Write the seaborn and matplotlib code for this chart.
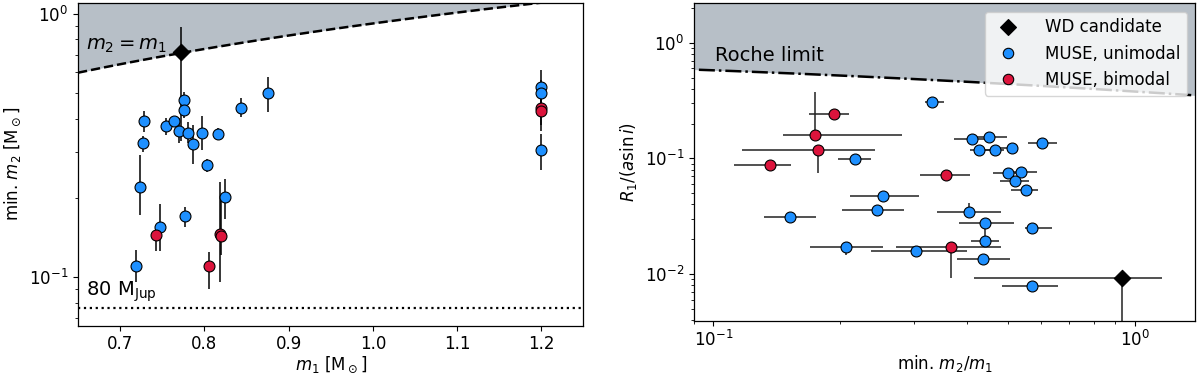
import numpy as np
import pandas as pd
import matplotlib
matplotlib.use("Agg")
import matplotlib.pyplot as plt
from matplotlib.lines import Line2D
import seaborn as sns

# ---- left panel: m1 vs min. m2 ----
m1_uni = [0.776, 0.776, 0.728, 0.727, 0.754, 0.764, 0.770, 0.780, 0.786, 0.797, 0.816,
          0.803, 0.8435, 0.875, 0.724, 0.825, 0.7766, 0.747, 0.719, 1.2, 1.2, 1.2]
m2_uni = [0.471, 0.431, 0.392, 0.322, 0.376, 0.392, 0.359, 0.352, 0.320, 0.352, 0.350,
          0.266, 0.440, 0.499, 0.2195, 0.202, 0.170, 0.1546, 0.110, 0.529, 0.499, 0.305]
m2_uni_lo = [0.44, 0.401, 0.356, 0.299, 0.346, 0.38, 0.322, 0.322, 0.269, 0.303, 0.331,
             0.251, 0.407, 0.425, 0.172, 0.167, 0.155, 0.126, 0.0958, 0.46, 0.44, 0.255]
m2_uni_hi = [0.506, 0.46, 0.428, 0.343, 0.404, 0.40, 0.401, 0.389, 0.378, 0.411, 0.37,
             0.282, 0.478, 0.577, 0.29, 0.235, 0.185, 0.189, 0.1264, 0.61, 0.56, 0.35]

m1_bi = [0.743, 0.818, 0.820, 0.805, 1.2, 1.2]
m2_bi = [0.144, 0.1463, 0.143, 0.110, 0.439, 0.426]
m2_bi_lo = [0.126, 0.0958, 0.121, 0.0904, 0.38, 0.36]
m2_bi_hi = [0.153, 0.23, 0.196, 0.1245, 0.5, 0.47]

m1_wd = [0.772]
m2_wd = [0.72]
m2_wd_lo = [0.33]
m2_wd_hi = [0.89]

# ---- right panel: min. q vs R1/(a sin i) ----
q_uni = [0.331, 0.217, 0.412, 0.450, 0.428, 0.465, 0.511, 0.6035, 0.500, 0.537, 0.5206,
         0.5535, 0.253, 0.2443, 0.1523, 0.405, 0.441, 0.441, 0.570, 0.2063, 0.302, 0.436, 0.570]
q_uni_lo = [0.318, 0.198, 0.372, 0.42, 0.407, 0.44, 0.47, 0.557, 0.46, 0.50, 0.48,
            0.51, 0.211, 0.2017, 0.132, 0.340, 0.382, 0.409, 0.55, 0.1698, 0.2368, 0.378, 0.485]
q_uni_hi = [0.352, 0.237, 0.46, 0.497, 0.455, 0.49, 0.53, 0.656, 0.5376, 0.588, 0.56,
            0.59, 0.307, 0.284, 0.1754, 0.482, 0.5176, 0.4775, 0.636, 0.2533, 0.40, 0.506, 0.659]
r_uni = [0.309, 0.0982, 0.147, 0.152, 0.119, 0.119, 0.1225, 0.135, 0.0753, 0.077, 0.0633,
         0.0536, 0.0473, 0.0358, 0.031, 0.0346, 0.0275, 0.0195, 0.0252, 0.0173, 0.0159, 0.0135, 0.00794]
r_uni_lo = [0.309, 0.0982, 0.147, 0.152, 0.119, 0.119, 0.1225, 0.135, 0.0753, 0.077, 0.0633,
            0.0536, 0.0473, 0.0358, 0.031, 0.0346, 0.0195, 0.0195, 0.0252, 0.0147, 0.0159, 0.0135, 0.00794]
r_uni_hi = [0.309, 0.0982, 0.147, 0.152, 0.119, 0.119, 0.1225, 0.135, 0.0753, 0.077, 0.0633,
            0.0536, 0.0473, 0.0358, 0.031, 0.0414, 0.0275, 0.0195, 0.0252, 0.0173, 0.0159, 0.0135, 0.00794]

q_bi = [0.1935, 0.174, 0.1776, 0.1365, 0.356, 0.367]
q_bi_lo = [0.1688, 0.1466, 0.117, 0.112, 0.31, 0.2716]
q_bi_hi = [0.2104, 0.280, 0.242, 0.1533, 0.406, 0.482]
r_bi = [0.2433, 0.159, 0.118, 0.0883, 0.0714, 0.0173]
r_bi_lo = [0.2433, 0.159, 0.0752, 0.0883, 0.0714, 0.0092]
r_bi_hi = [0.2433, 0.377, 0.118, 0.0883, 0.0714, 0.0173]

q_wd = [0.9356]
q_wd_lo = [0.416]
q_wd_hi = [1.16]
r_wd = [0.0093]
r_wd_lo = [0.003]
r_wd_hi = [0.0093]

m_jup80 = 0.0764      # 80 M_Jup in M_sun
eq_line_factor = 0.92  # slope of the plotted m2 = m1 boundary

c_uni = "dodgerblue"
c_bi = "crimson"

sns.set_style("ticks")
plt.rcParams.update({
    "font.family": ["DejaVu Sans"],
    "font.size": 12,
    "axes.labelsize": 12,
    "xtick.labelsize": 12,
    "ytick.labelsize": 12,
    "axes.edgecolor": "black",
    "axes.linewidth": 0.9,
    "xtick.color": "black",
    "ytick.color": "black",
    "text.color": "black",
    "axes.labelcolor": "black",
    "xtick.major.size": 3.5,
    "ytick.major.size": 3.5,
    "xtick.minor.size": 2,
    "ytick.minor.size": 2,
    "xtick.major.pad": 3,
    "mathtext.default": "it",
})

fig = plt.figure(figsize=(12, 3.76), dpi=100)
ax1 = fig.add_axes([0.065, 0.1343, 0.4212, 0.857])
ax2 = fig.add_axes([0.5783, 0.147, 0.4179, 0.844])


def to_err(v, lo, hi):
    v = np.asarray(v)
    return np.vstack([v - np.asarray(lo), np.asarray(hi) - v])


def frame(x, y, kind):
    return pd.DataFrame({"x": x, "y": y, "kind": kind})


palette = {"WD candidate": "black", "MUSE, unimodal": c_uni, "MUSE, bimodal": c_bi}
markers = {"WD candidate": "D", "MUSE, unimodal": "o", "MUSE, bimodal": "o"}
sizes = {"WD candidate": 70, "MUSE, unimodal": 62, "MUSE, bimodal": 62}

# ---------------- left ----------------
xx = np.linspace(0.65, 1.25, 50)
ax1.fill_between(xx, eq_line_factor * xx, 5, color="slategray", alpha=0.5, lw=0, zorder=0)
ax1.plot(xx, eq_line_factor * xx, "k--", lw=1.8, zorder=1)
ax1.axhline(m_jup80, color="k", ls=":", lw=1.6, zorder=1)

ax1.errorbar(m1_uni, m2_uni, yerr=to_err(m2_uni, m2_uni_lo, m2_uni_hi), fmt="none",
             ecolor="k", elinewidth=1.1, zorder=2)
ax1.errorbar(m1_bi, m2_bi, yerr=to_err(m2_bi, m2_bi_lo, m2_bi_hi), fmt="none",
             ecolor="k", elinewidth=1.1, zorder=2)
ax1.errorbar(m1_wd, m2_wd, yerr=to_err(m2_wd, m2_wd_lo, m2_wd_hi), fmt="none",
             ecolor="k", elinewidth=1.1, zorder=2)

left_df = pd.concat([frame(m1_uni, m2_uni, "MUSE, unimodal"),
                     frame(m1_bi, m2_bi, "MUSE, bimodal"),
                     frame(m1_wd, m2_wd, "WD candidate")], ignore_index=True)
for kind, sub in left_df.groupby("kind", sort=False):
    sns.scatterplot(data=sub, x="x", y="y", color=palette[kind], marker=markers[kind],
                    s=sizes[kind], edgecolor="k", linewidth=0.8, ax=ax1, zorder=3, legend=False)

ax1.set_yscale("log")
ax1.set_xlim(0.65, 1.25)
ax1.set_ylim(0.0655, 1.098)
ax1.set_xlabel(r"$m_1$ [M$_\odot$]", labelpad=1.5)
ax1.set_ylabel(r"min. $m_2$ [M$_\odot$]")
ax1.text(0.659, 0.76, r"$m_2 = m_1$", fontsize=14, va="center")
ax1.text(0.659, 0.0792, r"80 M$_\mathrm{Jup}$", fontsize=14, va="bottom")

# ---------------- right ----------------
qq = np.logspace(np.log10(0.08), np.log10(1.5), 200)
inv = 1.0 / qq
roche = 0.49 * inv ** (2 / 3) / (0.6 * inv ** (2 / 3) + np.log(1 + inv ** (1 / 3)))
ax2.fill_between(qq, roche, 10, color="slategray", alpha=0.5, lw=0, zorder=0)
ax2.plot(qq, roche, "k-.", lw=1.8, zorder=1)

ax2.errorbar(q_uni, r_uni, xerr=to_err(q_uni, q_uni_lo, q_uni_hi),
             yerr=to_err(r_uni, r_uni_lo, r_uni_hi), fmt="none",
             ecolor="#222222", elinewidth=1.1, zorder=2)
ax2.errorbar(q_bi, r_bi, xerr=to_err(q_bi, q_bi_lo, q_bi_hi),
             yerr=to_err(r_bi, r_bi_lo, r_bi_hi), fmt="none",
             ecolor="#222222", elinewidth=1.1, zorder=2)
ax2.errorbar(q_wd, r_wd, xerr=to_err(q_wd, q_wd_lo, q_wd_hi),
             yerr=to_err(r_wd, r_wd_lo, r_wd_hi), fmt="none",
             ecolor="#222222", elinewidth=1.1, zorder=2)

right_df = pd.concat([frame(q_uni, r_uni, "MUSE, unimodal"),
                      frame(q_bi, r_bi, "MUSE, bimodal"),
                      frame(q_wd, r_wd, "WD candidate")], ignore_index=True)
for kind, sub in right_df.groupby("kind", sort=False):
    sns.scatterplot(data=sub, x="x", y="y", color=palette[kind], marker=markers[kind],
                    s=sizes[kind], edgecolor="k", linewidth=0.8, ax=ax2, zorder=3, legend=False)

ax2.set_xscale("log")
ax2.set_yscale("log")
ax2.set_xlim(0.090, 1.394)
ax2.set_ylim(0.00395, 2.19)
ax2.set_xlabel(r"min. $m_2/m_1$", labelpad=2)
ax2.set_ylabel(r"$R_1/(a\sin i)$")
ax2.text(0.101, 0.77, "Roche limit", fontsize=14, va="center")

handles = [Line2D([], [], ls="none", marker=markers[k], color=palette[k], markeredgecolor="k",
                  markersize=8 if k == "WD candidate" else 7.5, markeredgewidth=0.8)
           for k in ["WD candidate", "MUSE, unimodal", "MUSE, bimodal"]]
ax2.legend(handles, ["WD candidate", "MUSE, unimodal", "MUSE, bimodal"], loc="upper right",
           fontsize=12, frameon=True, framealpha=0.8, edgecolor="0.8", handletextpad=1.2)

for ax in (ax1, ax2):
    for s in ax.spines.values():
        s.set_visible(True)

fig.savefig("out.png", dpi=100)
